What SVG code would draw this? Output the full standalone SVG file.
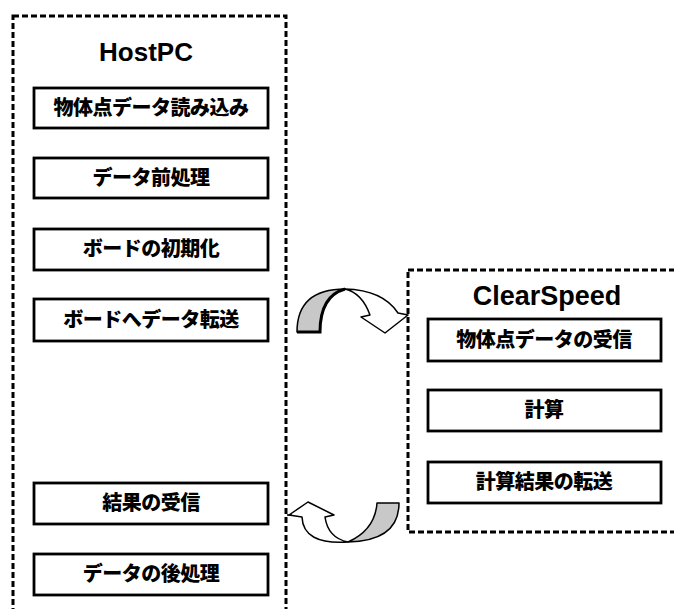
<svg xmlns="http://www.w3.org/2000/svg" width="674" height="609" viewBox="0 0 674 609">
<style>
.cont{fill:none;stroke:#000;stroke-width:3;stroke-dasharray:6 3}
.box{fill:#fff;stroke:#000;stroke-width:2.8}
.t{font-family:"Noto Sans CJK JP","Liberation Sans",sans-serif;font-weight:900;font-size:20px;text-anchor:middle;fill:#000;letter-spacing:-0.5px}
.h{font-family:"Liberation Sans",Arial,sans-serif;font-weight:bold;text-anchor:middle;fill:#000}
.ag{fill:#c8c8c8;stroke:#000;stroke-width:1.5;stroke-linejoin:round}
.aw{fill:#fff;stroke:#000;stroke-width:1.5;stroke-linejoin:round}
</style>
<rect width="674" height="609" fill="#fff"/>
<g id="hostpc">
<rect class="cont" x="13" y="16" width="273" height="620"/>
<text class="h" x="146" y="61" font-size="26">HostPC</text>
</g>
<g id="clearspeed">
<rect class="cont" x="408" y="270" width="300" height="262"/>
<text class="h" x="547" y="305" font-size="27">ClearSpeed</text>
</g>
<g id="h1"><rect class="box" x="34" y="88" width="234" height="40"/><text class="t" x="151" y="115">物体点データ読み込み</text></g>
<g id="h2"><rect class="box" x="34" y="158" width="234" height="40"/><text class="t" x="151" y="185">データ前処理</text></g>
<g id="h3"><rect class="box" x="34" y="229" width="234" height="41"/><text class="t" x="151" y="256">ボードの初期化</text></g>
<g id="h4"><rect class="box" x="34" y="299" width="234" height="42"/><text class="t" x="151" y="327">ボードへデータ転送</text></g>
<g id="h5"><rect class="box" x="34" y="483" width="234" height="41"/><text class="t" x="151" y="510">結果の受信</text></g>
<g id="h6"><rect class="box" x="34" y="554" width="234" height="41"/><text class="t" x="151" y="581">データの後処理</text></g>
<g id="c1"><rect class="box" x="428" y="319" width="233" height="42"/><text class="t" x="544" y="347">物体点データの受信</text></g>
<g id="c2"><rect class="box" x="428" y="390" width="233" height="41"/><text class="t" x="544" y="417">計算</text></g>
<g id="c3"><rect class="box" x="428" y="462" width="233" height="41"/><text class="t" x="544" y="489">計算結果の転送</text></g>
<g id="connectors">
<g id="arrow-to-board">
<path class="ag" d="M297,332 Q297,289 345,289 Q320,296 320,332 Z"/>
<path class="aw" d="M345,289 Q383,290 398,313 L408,315 L385,333 L361,317 L370,315 Q362,293 345,289 Z"/>
<path d="M297,332 L320,332 Q320,296 345,289" fill="none" stroke="#000" stroke-width="3"/>
</g>
<g id="arrow-to-host">
<path class="ag" d="M377,503 L399,503 Q399,541 348,542 Q375,530 377,503 Z"/>
<path class="aw" d="M348,542 Q303,545 302,517 L289,515 L308,502 L334,515 L325,517 Q328,538 348,542 Z"/>
<line x1="287" y1="515" x2="292" y2="515" stroke="#000" stroke-width="1.5"/>
</g>
</g>
</svg>
